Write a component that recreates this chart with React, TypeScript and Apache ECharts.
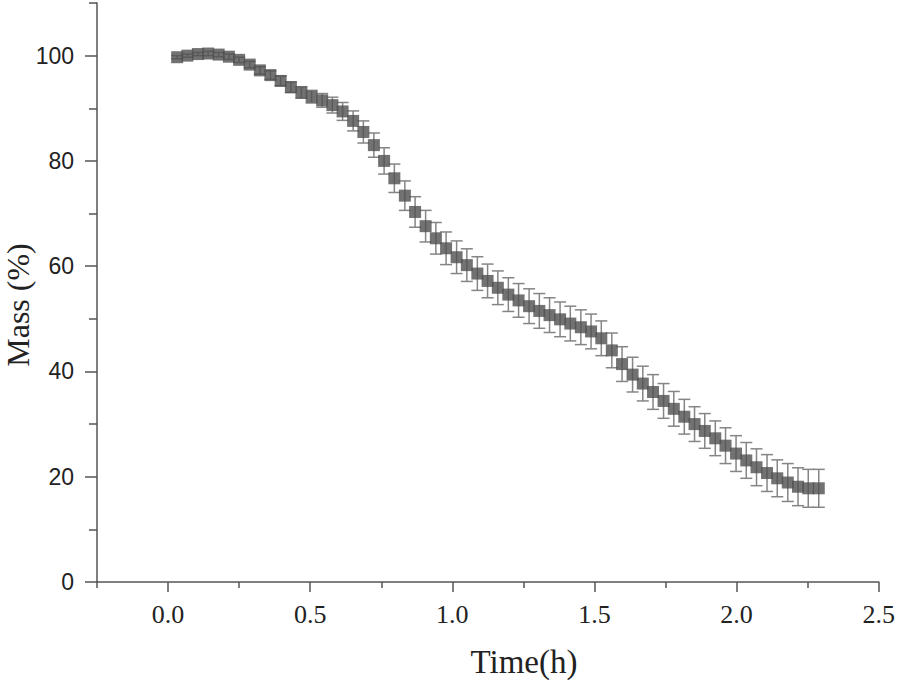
import React, { useEffect, useRef } from "react";
import * as echarts from "echarts";

const timeHours = [
  0.032, 0.068, 0.105, 0.141, 0.178, 0.214, 0.25, 0.287, 0.323, 0.36,
  0.396, 0.432, 0.469, 0.505, 0.542, 0.578, 0.614, 0.651, 0.687, 0.724,
  0.76, 0.796, 0.833, 0.869, 0.906, 0.942, 0.978, 1.015, 1.051, 1.088,
  1.124, 1.16, 1.197, 1.233, 1.27, 1.306, 1.342, 1.379, 1.415, 1.452,
  1.488, 1.524, 1.561, 1.597, 1.634, 1.67, 1.706, 1.743, 1.779, 1.816,
  1.852, 1.888, 1.925, 1.961, 1.998, 2.034, 2.07, 2.107, 2.143, 2.18,
  2.216, 2.252, 2.289,
];

const massPercent = [
  99.7, 100.0, 100.3, 100.4, 100.2, 99.8, 99.2, 98.3, 97.2, 96.3,
  95.2, 94.0, 93.0, 92.2, 91.5, 90.6, 89.4, 87.6, 85.5, 83.0,
  80.0, 76.7, 73.4, 70.3, 67.6, 65.3, 63.4, 61.7, 60.2, 58.6,
  57.2, 55.9, 54.6, 53.5, 52.4, 51.5, 50.7, 49.9, 49.1, 48.4,
  47.6, 46.3, 44.0, 41.4, 39.4, 37.7, 36.1, 34.4, 32.9, 31.4,
  30.0, 28.7, 27.3, 25.9, 24.4, 23.1, 21.8, 20.7, 19.7, 18.9,
  18.1, 17.8, 17.8,
];

const massError = [
  0.3, 0.3, 0.3, 0.4, 0.4, 0.5, 0.5, 0.6, 0.7, 0.8,
  0.9, 1.0, 1.1, 1.2, 1.3, 1.5, 1.7, 1.9, 2.1, 2.3,
  2.5, 2.7, 2.8, 2.9, 3.0, 3.0, 3.1, 3.1, 3.1, 3.2,
  3.2, 3.2, 3.2, 3.2, 3.3, 3.3, 3.3, 3.3, 3.3, 3.3,
  3.3, 3.3, 3.3, 3.3, 3.3, 3.3, 3.3, 3.3, 3.3, 3.3,
  3.3, 3.3, 3.3, 3.4, 3.4, 3.4, 3.5, 3.5, 3.5, 3.6,
  3.6, 3.6, 3.6,
];

const xMajorTicks = [0, 0.5, 1.0, 1.5, 2.0, 2.5];
const xMinorTicks = [-0.25, 0.25, 0.75, 1.25, 1.75, 2.25];
const yMajorTicks = [0, 20, 40, 60, 80, 100];
const yMinorTicks = [10, 30, 50, 70, 90, 110];

const xTitle = "Time(h)";
const yTitle = "Mass (%)";

const AXIS_COLOR = "#555";
const SERIF = "'Liberation Serif', 'Times New Roman', serif";
const SANS = "'Liberation Sans', Arial, sans-serif";

export default function App() {
  const ref = useRef<HTMLDivElement>(null);

  useEffect(() => {
    if (!ref.current) return;
    const chart = echarts.init(ref.current, undefined, { renderer: "svg" });

    const points = timeHours.map((t, i) => [t, massPercent[i], massError[i]]);

    const axisLine = { show: true, onZero: false, lineStyle: { color: AXIS_COLOR, width: 1.5 } };
    const hiddenLine = { show: false, onZero: false };

    chart.setOption({
      animation: false,
      backgroundColor: "#fff",
      grid: { left: 97, right: 16, top: 3, bottom: 101, containLabel: false },
      xAxis: [
        {
          type: "value",
          min: -0.25,
          max: 2.5,
          position: "bottom",
          axisLine,
          axisTick: {
            show: true,
            customValues: xMajorTicks,
            length: 10,
            lineStyle: { color: AXIS_COLOR, width: 1.5 },
          },
          axisLabel: {
            customValues: xMajorTicks,
            formatter: (v: number) => v.toFixed(1),
            fontFamily: SERIF,
            fontSize: 26,
            color: "#222",
            margin: 19,
          },
          splitLine: { show: false },
        },
        {
          type: "value",
          min: -0.25,
          max: 2.5,
          position: "bottom",
          offset: 0,
          axisLine: hiddenLine,
          axisTick: {
            show: true,
            customValues: xMinorTicks,
            length: 6,
            lineStyle: { color: AXIS_COLOR, width: 1.5 },
          },
          axisLabel: { show: false },
          splitLine: { show: false },
        },
      ],
      yAxis: [
        {
          type: "value",
          min: 0,
          max: 110,
          position: "left",
          axisLine,
          axisTick: {
            show: true,
            customValues: yMajorTicks,
            length: 12,
            lineStyle: { color: AXIS_COLOR, width: 1.5 },
          },
          axisLabel: {
            customValues: yMajorTicks,
            fontFamily: SANS,
            fontSize: 23,
            color: "#222",
            margin: 23,
          },
          splitLine: { show: false },
        },
        {
          type: "value",
          min: 0,
          max: 110,
          position: "left",
          offset: 0,
          axisLine: hiddenLine,
          axisTick: {
            show: true,
            customValues: yMinorTicks,
            length: 8,
            lineStyle: { color: AXIS_COLOR, width: 1.5 },
          },
          axisLabel: { show: false },
          splitLine: { show: false },
        },
      ],
      graphic: [
        {
          type: "text",
          x: 524,
          y: 662,
          style: {
            text: xTitle,
            fontFamily: SERIF,
            fontSize: 33,
            fill: "#222",
            align: "center",
            verticalAlign: "middle",
          },
        },
        {
          type: "text",
          x: 18,
          y: 305,
          rotation: Math.PI / 2,
          style: {
            text: yTitle,
            fontFamily: SERIF,
            fontSize: 32,
            fill: "#222",
            align: "center",
            verticalAlign: "middle",
          },
        },
      ],
      series: [
        {
          type: "custom",
          xAxisIndex: 0,
          yAxisIndex: 0,
          data: points,
          encode: { x: 0, y: 1 },
          z: 1,
          renderItem: (params: any, api: any) => {
            const x = api.value(0);
            const y = api.value(1);
            const e = api.value(2);
            const top = api.coord([x, y + e]);
            const bot = api.coord([x, y - e]);
            const hw = 6;
            const style = { stroke: "#858585", lineWidth: 1.5 };
            return {
              type: "group",
              children: [
                { type: "line", shape: { x1: top[0], y1: top[1], x2: bot[0], y2: bot[1] }, style },
                { type: "line", shape: { x1: top[0] - hw, y1: top[1], x2: top[0] + hw, y2: top[1] }, style },
                { type: "line", shape: { x1: bot[0] - hw, y1: bot[1], x2: bot[0] + hw, y2: bot[1] }, style },
              ],
            };
          },
        },
        {
          type: "scatter",
          xAxisIndex: 0,
          yAxisIndex: 0,
          data: points.map((p) => [p[0], p[1]]),
          symbol: "rect",
          symbolSize: 12,
          itemStyle: { color: "#4f4f4f" },
          z: 2,
        },
      ],
    });

    return () => chart.dispose();
  }, []);

  return (
    <div
      ref={ref}
      style={{ position: "absolute", left: 0, top: 0, width: 898, height: 683 }}
    />
  );
}
